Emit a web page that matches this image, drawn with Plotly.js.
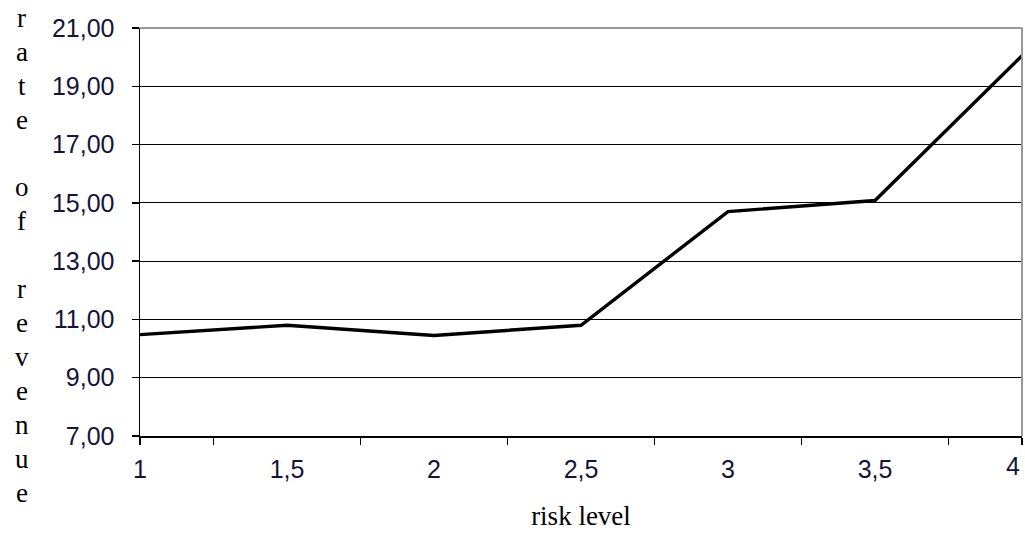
<!DOCTYPE html>
<html>
<head>
<meta charset="utf-8">
<script src="https://cdn.plot.ly/plotly-3.0.1.min.js"></script>
<style>html,body{margin:0;padding:0;background:#fff;}#chart{width:1025px;height:537px;}</style>
</head>
<body>
<div id="chart"></div>
<script>
const riskLevel = [1, 1.5, 2, 2.5, 3, 3.5, 4];
const rateOfRevenue = [10.48, 10.8, 10.45, 10.8, 14.7, 15.08, 20.05];
const xTickVals = [1, 1.5, 2, 2.5, 3, 3.5, 4];
const xTickText = ['1', '1,5', '2', '2,5', '3', '3,5', '4'];
const xMarkVals = [1, 1.25, 1.75, 2.25, 2.75, 3.25, 3.75, 4];
const yTickVals = [7, 9, 11, 13, 15, 17, 19, 21];
const yTickText = ['7,00', '9,00', '11,00', '13,00', '15,00', '17,00', '19,00', '21,00'];
const yTitleChars = ['r','a','t','e','','o','f','','r','e','v','e','n','u','e'];
const xTitle = 'risk level';

const labelColor = '#14143a';
const tickFont = {family: 'Liberation Sans, Arial, sans-serif', size: 25, color: labelColor};
const annotations = yTitleChars.map((c, i) => ({
  text: c, xref: 'paper', yref: 'paper', x: -0.134, xanchor: 'center',
  y: 1.0 + (28 - 18 - i * 33.9) / 408, yanchor: 'middle', showarrow: false,
  font: {family: 'Liberation Serif, Times New Roman, serif', size: 27, color: '#000'}
}));
// last x label sits left-aligned against the plot's right edge, as in the reference
const nLast = xTickVals.length - 1;
annotations.push({
  text: xTickText[nLast], xref: 'x', yref: 'paper', x: xTickVals[nLast], xanchor: 'right',
  y: -0.074, yanchor: 'middle', showarrow: false, font: tickFont
});

const data = [{
  x: riskLevel, y: rateOfRevenue, type: 'scatter', mode: 'lines',
  line: {color: '#000', width: 3.4}, hoverinfo: 'skip'
}];

const layout = {
  width: 1025, height: 537,
  margin: {l: 140, r: 3, t: 28, b: 101},
  paper_bgcolor: '#fff', plot_bgcolor: '#fff',
  showlegend: false,
  font: {family: 'Liberation Sans, Arial, sans-serif', size: 25, color: labelColor},
  xaxis: {
    range: [1, 4], tickmode: 'array',
    tickvals: xTickVals.slice(0, nLast), ticktext: xTickText.slice(0, nLast),
    ticks: '', showgrid: false, zeroline: false,
    showline: true, linecolor: '#000', linewidth: 1.5,
    ticklabelstandoff: 10, ticklabeloverflow: 'allow',
    tickfont: tickFont,
    minor: {tickmode: 'array', tickvals: xMarkVals, ticks: 'outside', ticklen: 7, tickwidth: 1.5, tickcolor: '#000', showgrid: false},
    title: {text: xTitle, standoff: 24, font: {family: 'Liberation Serif, Times New Roman, serif', size: 27, color: '#000'}}
  },
  yaxis: {
    range: [7, 21], tickmode: 'array', tickvals: yTickVals, ticktext: yTickText,
    ticks: 'outside', ticklen: 7, tickwidth: 1.5, tickcolor: '#000',
    showgrid: true, gridcolor: '#000', gridwidth: 1,
    zeroline: false, showline: true, linecolor: '#000', linewidth: 1.5,
    ticklabelstandoff: 12, ticklabeloverflow: 'allow',
    tickfont: tickFont
  },
  shapes: [
    {type: 'line', xref: 'paper', yref: 'paper', x0: 0, x1: 1, y0: 1, y1: 1, line: {color: '#999', width: 2}, layer: 'above'},
    {type: 'line', xref: 'paper', yref: 'paper', x0: 1, x1: 1, y0: 0, y1: 1, line: {color: '#999', width: 2}, layer: 'above'}
  ],
  annotations: annotations
};

Plotly.newPlot('chart', data, layout, {displayModeBar: false, staticPlot: true});
</script>
</body>
</html>
